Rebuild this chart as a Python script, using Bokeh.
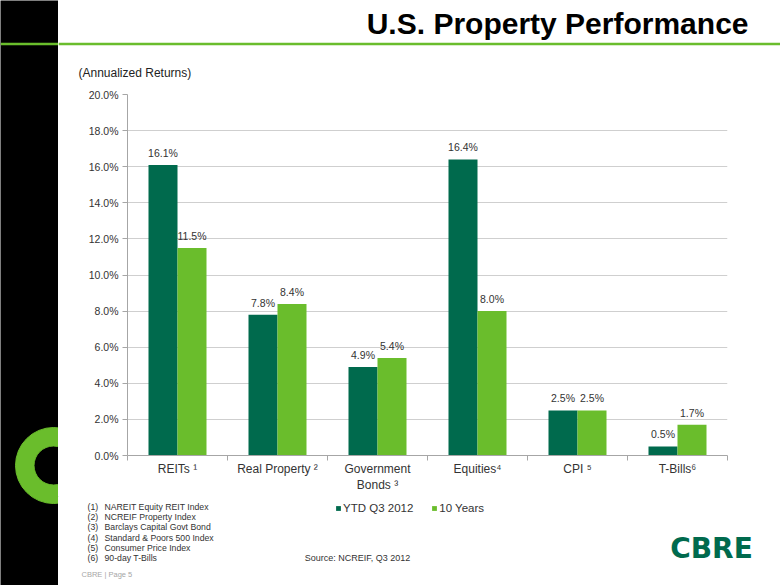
from bokeh.plotting import figure
from bokeh.models import (Range1d, LinearAxis, FixedTicker,
                          PrintfTickFormatter, Legend, LegendItem, Label, Span, ColumnDataSource)
from bokeh.transform import dodge
from bokeh.layouts import row, column
from bokeh.core.properties import value
from bokeh.embed import file_html
from bokeh.resources import INLINE

# ---------------- data ----------------
categories = ["REITs ¹", "Real Property ²", "Government\nBonds ³", "Equities⁴", "CPI ⁵", "T-Bills⁶"]
ytd_q3_2012 = [16.1, 7.8, 4.9, 16.4, 2.5, 0.5]
ten_years = [11.5, 8.4, 5.4, 8.0, 2.5, 1.7]
series_names = ["YTD Q3 2012", "10 Years"]
y_ticks = [0, 2, 4, 6, 8, 10, 12, 14, 16, 18, 20]
footnote_numbers = ["(1)", "(2)", "(3)", "(4)", "(5)", "(6)"]
footnotes = ["NAREIT Equity REIT Index", "NCREIF Property Index", "Barclays Capital Govt Bond",
             "Standard & Poors 500 Index", "Consumer Price Index", "90-day T-Bills"]
title = "U.S. Property Performance"
subtitle = "(Annualized Returns)"
source_text = "Source: NCREIF, Q3 2012"
page_text = "CBRE | Page 5"

DARK = "#006A4D"
LIGHT = "#6ABD2C"
FONT = "Liberation Sans"
TXT = "#333333"

n = len(categories)
centers = [i + 0.5 for i in range(n)]          # slot centres on the category axis
bounds = [float(i) for i in range(n + 1)]       # slot boundaries (tick marks)


def bare(fig):
    fig.outline_line_color = None
    fig.grid.visible = False
    return fig


# ---------------- left black stripe with logo ring ----------------
ps = bare(figure(width=58, height=585, x_range=Range1d(0, 58), y_range=Range1d(585, 0),
                 output_backend="svg", toolbar_location=None, x_axis_location=None,
                 y_axis_location=None, min_border=0))
ps.background_fill_color = "black"
ps.border_fill_color = "black"
ps.annulus(x=[53], y=[465], inner_radius=19.5, outer_radius=38, color=LIGHT)
ps.add_layout(Span(location=43.5, dimension="width", line_color=LIGHT, line_width=2.5))

# ---------------- title strip ----------------
pt = bare(figure(width=722, height=80, x_range=Range1d(58, 780), y_range=Range1d(80, 0),
                 output_backend="svg", toolbar_location=None, x_axis_location=None,
                 y_axis_location=None, min_border=0))
pt.add_layout(Span(location=43.5, dimension="width", line_color=LIGHT, line_width=2.5))
pt.add_layout(Label(x=748, y=23, text=title, text_align="right", text_baseline="middle",
                    text_font=FONT, text_font_style="bold", text_font_size="30px",
                    text_color="black"))
pt.add_layout(Label(x=78, y=72, text=subtitle, text_align="left", text_baseline="middle",
                    text_font=FONT, text_font_size="12px", text_color="#222222"))

# ---------------- chart ----------------
src = ColumnDataSource(dict(
    xc=centers,
    ytd=ytd_q3_2012,
    ten=ten_years,
    ytd_lab=[f"{v:.1f}%" for v in ytd_q3_2012],
    ten_lab=[f"{v:.1f}%" for v in ten_years],
))

p = figure(width=722, height=416, x_range=Range1d(0, n), y_range=Range1d(0, 20),
           output_backend="svg", toolbar_location=None, x_axis_location=None,
           y_axis_location=None, min_border_left=69, min_border_right=53,
           min_border_top=14, min_border_bottom=41)
p.outline_line_color = None
p.xgrid.visible = False
p.ygrid.ticker = FixedTicker(ticks=y_ticks)
p.ygrid.grid_line_color = "#CFCFCF"

yax = LinearAxis(ticker=FixedTicker(ticks=y_ticks), formatter=PrintfTickFormatter(format="%.1f%%"))
yax.axis_line_color = "#A6A6A6"
yax.major_tick_line_color = "#A6A6A6"
yax.major_tick_out = 5
yax.major_tick_in = 0
yax.minor_tick_line_color = None
yax.major_label_standoff = 4
yax.major_label_text_font = FONT
yax.major_label_text_font_size = "10.5px"
yax.major_label_text_color = TXT
p.add_layout(yax, "left")

xax = LinearAxis(ticker=FixedTicker(ticks=centers, minor_ticks=bounds))
xax.axis_line_color = "#A6A6A6"
xax.major_tick_line_color = None
xax.major_tick_out = 5
xax.major_tick_in = 0
xax.minor_tick_line_color = "#A6A6A6"
xax.minor_tick_out = 5
xax.minor_tick_in = 0
xax.major_label_standoff = 1
xax.major_label_overrides = {c: lab for c, lab in zip(centers, categories)}
xax.major_label_text_font = FONT
xax.major_label_text_font_size = "12px"
xax.major_label_text_color = TXT
p.add_layout(xax, "below")

p.vbar(x=dodge("xc", -0.145), top="ytd", width=0.29, source=src,
       fill_color=DARK, line_color=None)
p.vbar(x=dodge("xc", 0.145), top="ten", width=0.29, source=src,
       fill_color=LIGHT, line_color=None)

p.text(x=dodge("xc", -0.145), y="ytd", text="ytd_lab", source=src,
       text_align="center", text_baseline="bottom", y_offset=-6,
       text_font=value(FONT), text_font_size="10.5px", text_color=TXT)
p.text(x=dodge("xc", 0.145), y="ten", text="ten_lab", source=src,
       text_align="center", text_baseline="bottom", y_offset=-6,
       text_font=value(FONT), text_font_size="10.5px", text_color=TXT)

# ---------------- footer: legend, footnotes, source, logo ----------------
pf = bare(figure(width=722, height=89, x_range=Range1d(58, 780), y_range=Range1d(585, 496),
                 output_backend="svg", toolbar_location=None, x_axis_location=None,
                 y_axis_location=None, min_border=0))
# legend swatches (zero-height bars parked off-view, used only as legend glyphs)
leg_src = ColumnDataSource(dict(x=[0], top=[0]))
g1 = pf.vbar(x="x", top="top", width=1, source=leg_src, fill_color=DARK, line_color=None)
g2 = pf.vbar(x="x", top="top", width=1, source=leg_src, fill_color=LIGHT, line_color=None)
legend = Legend(items=[LegendItem(label=series_names[0], renderers=[g1]),
                       LegendItem(label=series_names[1], renderers=[g2])],
                orientation="horizontal", location=(277, 71))
legend.background_fill_alpha = 0
legend.border_line_color = None
legend.padding = 0
legend.margin = 0
legend.spacing = 18
legend.glyph_width = 6
legend.glyph_height = 6
legend.label_standoff = 2
legend.label_text_font = FONT
legend.label_text_font_size = "11.5px"
legend.label_text_color = TXT
pf.add_layout(legend)

rows_y = [506, 516.3, 526.6, 537, 547.3, 557.6]
for num, note, yy in zip(footnote_numbers, footnotes, rows_y):
    pf.add_layout(Label(x=87, y=yy, text=num, text_align="left", text_baseline="middle",
                        text_font=FONT, text_font_size="8.7px", text_color=TXT))
    pf.add_layout(Label(x=104, y=yy, text=note, text_align="left", text_baseline="middle",
                        text_font=FONT, text_font_size="8.7px", text_color=TXT))

pf.add_layout(Label(x=357, y=557.6, text=source_text, text_align="center",
                    text_baseline="middle", text_font=FONT, text_font_size="9px",
                    text_color=TXT))
pf.add_layout(Label(x=81, y=574, text=page_text, text_align="left", text_baseline="middle",
                    text_font=FONT, text_font_size="7.5px", text_color="#A6A6A6"))
pf.add_layout(Label(x=711, y=547.5, text="CBRE", text_align="center", text_baseline="middle",
                    text_font="DejaVu Sans", text_font_style="bold", text_font_size="28px",
                    text_color=DARK))

layout = row(ps, column(row(pt), p, row(pf), spacing=0), spacing=0)

open("out.html", "w").write(file_html(layout, INLINE))
